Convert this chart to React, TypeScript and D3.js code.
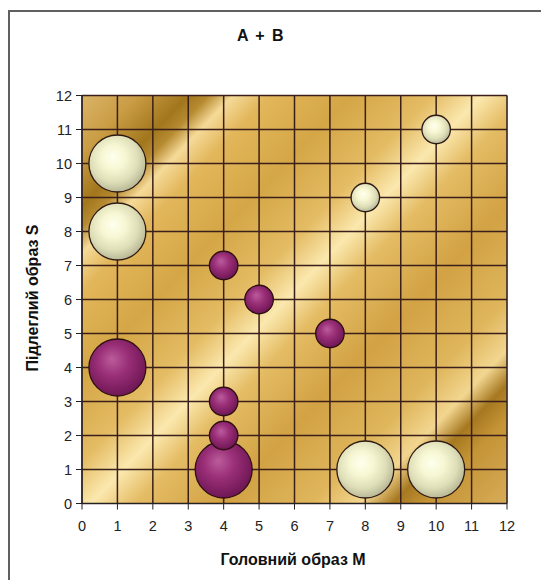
import React from "react";
import * as d3 from "d3";

const seriesA_x = [1, 1, 8, 10, 8, 10];
const seriesA_y = [10, 8, 9, 11, 1, 1];
const seriesA_size = [4, 4, 1, 1, 4, 4];

const seriesB_x = [1, 4, 4, 5, 7, 4, 4];
const seriesB_y = [4, 1, 7, 6, 5, 3, 2];
const seriesB_size = [4, 4, 1, 1, 1, 1, 1];

const xTicks = d3.range(0, 13);
const yTicks = d3.range(0, 13);

const title = "A + B";
const xTitle = "Головний образ M";
const yTitle = "Підлеглий образ S";

export default function App() {
  const W = 541, H = 580;
  const left = 82, right = 507, top = 95.5, bottom = 503.5;
  const x = d3.scaleLinear().domain([0, 12]).range([left, right]);
  const y = d3.scaleLinear().domain([0, 12]).range([bottom, top]);
  const r = d3.scaleSqrt().domain([0, 4]).range([0, 28.5]);

  const A = seriesA_x.map((v, i) => ({ x: v, y: seriesA_y[i], s: seriesA_size[i] }));
  const B = seriesB_x.map((v, i) => ({ x: v, y: seriesB_y[i], s: seriesB_size[i] }));

  const bgStops: [number, string][] = [
    [0, "#dbb468"],
    [0.07, "#c99c44"],
    [0.13, "#a2761c"],
    [0.155, "#b68a30"],
    [0.185, "#f5da98"],
    [0.23, "#e2b65a"],
    [0.33, "#d4a646"],
    [0.43, "#e4bc64"],
    [0.49, "#fbe8ae"],
    [0.545, "#e4bc64"],
    [0.65, "#d2a244"],
    [0.76, "#dfb65c"],
    [0.82, "#f2d690"],
    [0.86, "#a67820"],
    [0.9, "#c49436"],
    [1, "#d8ac58"],
  ];

  const font = "Arial, 'Liberation Sans', sans-serif";

  return (
    <div style={{ position: "absolute", left: 0, top: 0 }}>
      <svg width={W} height={H} style={{ display: "block", background: "#fff" }}>
        <defs>
          <linearGradient id="bg" gradientUnits="userSpaceOnUse" x1={left} y1={top} x2={right} y2={bottom}>
            {bgStops.map(([o, c], i) => (
              <stop key={i} offset={o} stopColor={c} />
            ))}
          </linearGradient>
          <radialGradient id="cream" cx="0.45" cy="0.42" r="0.6" fx="0.42" fy="0.38">
            <stop offset="0" stopColor="#ffffee" />
            <stop offset="0.35" stopColor="#f7f7d4" />
            <stop offset="0.7" stopColor="#dedeb8" />
            <stop offset="1" stopColor="#b4b494" />
          </radialGradient>
          <radialGradient id="purple" cx="0.45" cy="0.42" r="0.6" fx="0.4" fy="0.35">
            <stop offset="0" stopColor="#bb5c9c" />
            <stop offset="0.45" stopColor="#9a2f78" />
            <stop offset="1" stopColor="#6c1552" />
          </radialGradient>
        </defs>

        {/* outer frame */}
        <line x1={9} y1={11} x2={9} y2={H} stroke="#606060" strokeWidth={2} />
        <line x1={8} y1={11} x2={W} y2={11} stroke="#606060" strokeWidth={2} />

        <text x={261} y={41} textAnchor="middle" fontFamily={font} fontWeight="bold" fontSize={16} letterSpacing={1.5} fill="#111">
          {title}
        </text>

        {/* plot background */}
        <rect x={left} y={top} width={right - left} height={bottom - top} fill="url(#bg)" stroke="#999" strokeWidth={1} />

        {/* grid */}
        {xTicks.map((t) => (
          <line key={"gx" + t} x1={x(t)} x2={x(t)} y1={top} y2={bottom} stroke="#3a1f1a" strokeWidth={1.5} />
        ))}
        {yTicks.map((t) => (
          <line key={"gy" + t} x1={left} x2={right} y1={y(t)} y2={y(t)} stroke="#3a1f1a" strokeWidth={1.5} />
        ))}

        {/* axes ticks */}
        <line x1={left} x2={left} y1={top} y2={bottom} stroke="#222" strokeWidth={1} />
        <line x1={left} x2={right} y1={bottom} y2={bottom} stroke="#222" strokeWidth={1} />
        {yTicks.map((t) => (
          <g key={"ty" + t}>
            <line x1={left - 6} x2={left} y1={y(t)} y2={y(t)} stroke="#222" strokeWidth={1} />
            <text x={72} y={y(t)} dy="0.36em" textAnchor="end" fontFamily={font} fontSize={14.5} fill="#222">
              {t}
            </text>
          </g>
        ))}
        {xTicks.map((t) => (
          <g key={"tx" + t}>
            <line x1={x(t)} x2={x(t)} y1={bottom} y2={bottom + 6} stroke="#222" strokeWidth={1} />
            <text x={x(t)} y={531} textAnchor="middle" fontFamily={font} fontSize={14.5} fill="#222">
              {t}
            </text>
          </g>
        ))}

        {/* bubbles */}
        {B.map((d, i) => (
          <circle key={"b" + i} cx={x(d.x)} cy={y(d.y)} r={r(d.s)} fill="url(#purple)" stroke="#2e1010" strokeWidth={1.3} />
        ))}
        {A.map((d, i) => (
          <circle key={"a" + i} cx={x(d.x)} cy={y(d.y)} r={r(d.s)} fill="url(#cream)" stroke="#2e1a14" strokeWidth={1.3} />
        ))}

        <text x={293} y={565} textAnchor="middle" fontFamily={font} fontWeight="bold" fontSize={16} fill="#111">
          {xTitle}
        </text>
        <text
          transform={`translate(38,298) rotate(-90)`}
          textAnchor="middle"
          fontFamily={font}
          fontWeight="bold"
          fontSize={16}
          fill="#111"
        >
          {yTitle}
        </text>
      </svg>
    </div>
  );
}
